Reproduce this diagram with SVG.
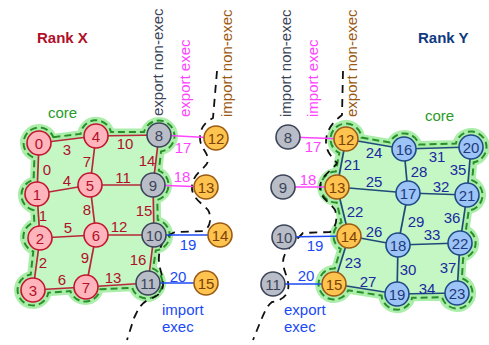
<svg xmlns="http://www.w3.org/2000/svg" width="489" height="345" viewBox="0 0 489 345">
<style>
text{font-family:"Liberation Sans",Arial,Helvetica,sans-serif;font-size:15px}
.n text{text-anchor:middle}
.nx circle{fill:#ffb5bb;stroke:#c4142e;stroke-width:1.6}
.nx text{fill:#b0102a}
.ng circle{fill:#b9bdc7;stroke:#3b4458;stroke-width:1.6}
.ng text{fill:#3b4458}
.no circle{fill:#ffc350;stroke:#9b5a12;stroke-width:1.6}
.no text{fill:#7a4206}
.nb circle{fill:#9cc4f6;stroke:#1f4a86;stroke-width:1.6}
.nb text{fill:#1f3a7a}
.core-halo{fill:#c4f7c4;stroke:#aaeeaa;stroke-width:7;stroke-linejoin:round}
.core-line{fill:none;stroke:#2a8f2a;stroke-width:2;stroke-dasharray:7 4}
.part{fill:none;stroke:#111;stroke-width:1.8;stroke-dasharray:8 6}
.ex{stroke:#b8283a;stroke-width:1.7}
.ey{stroke:#1f4a7a;stroke-width:1.7}
.em{stroke:#ff44ff;stroke-width:1.7}
.eb{stroke:#1a4af5;stroke-width:1.7}
.lx{fill:#b0102a;text-anchor:middle}
.ly{fill:#1a2aa0;text-anchor:middle}
.lm{fill:#ff44ff;text-anchor:middle}
.lb{fill:#1a4af5;text-anchor:middle}
</style>

<!-- core regions -->
<g id="core-x">
<path class="core-halo" d="M 53.4,137.2 L 80.6,133.9 A 15.5 15.5 0 0 1 111,132 L 144,132 A 15.5 15.5 0 1 1 161.1,151.4 L 158.8,170.6 A 15.5 15.5 0 0 1 157.3,199.9 L 157.7,219.9 A 15.5 15.5 0 0 1 155.8,250.4 L 153.1,268.7 A 15.5 15.5 0 1 1 132.2,287.7 L 100.2,289.3 A 15.5 15.5 0 0 1 70.4,291.1 L 48.3,292.8 A 15.5 15.5 0 1 1 30.7,274.6 L 33.3,251.5 A 15.5 15.5 0 0 1 34.3,222.2 L 33.7,210.2 A 15.5 15.5 0 0 1 33.6,179.9 L 34.4,157.8 A 15.5 15.5 0 1 1 53.4,137.2 Z"/>
<path class="core-line" d="M 53.4,137.2 L 80.6,133.9 A 15.5 15.5 0 0 1 111,132 L 144,132 A 15.5 15.5 0 1 1 161.1,151.4 L 158.8,170.6 A 15.5 15.5 0 0 1 157.3,199.9 L 157.7,219.9 A 15.5 15.5 0 0 1 155.8,250.4 L 153.1,268.7 A 15.5 15.5 0 1 1 132.2,287.7 L 100.2,289.3 A 15.5 15.5 0 0 1 70.4,291.1 L 48.3,292.8 A 15.5 15.5 0 1 1 30.7,274.6 L 33.3,251.5 A 15.5 15.5 0 0 1 34.3,222.2 L 33.7,210.2 A 15.5 15.5 0 0 1 33.6,179.9 L 34.4,157.8 A 15.5 15.5 0 1 1 53.4,137.2 Z"/>
</g>
<g id="core-y">
<path class="core-halo" d="M 361.5,137.6 L 389.9,142.5 A 15.5 15.5 0 0 1 418.9,144.6 L 455.9,143.5 A 15.5 15.5 0 1 1 473.7,162.3 L 472.2,180.4 A 15.5 15.5 0 0 1 468.8,210.4 L 466.1,228.7 A 15.5 15.5 0 0 1 463.1,258.2 L 461.9,278.3 A 15.5 15.5 0 1 1 442.1,297.3 L 412.1,297.8 A 15.5 15.5 0 0 1 381.6,295.6 L 348.2,290.3 A 15.5 15.5 0 1 1 334.7,268.5 L 340.7,249.1 A 15.5 15.5 0 0 1 341.5,222.4 L 336.7,202.5 A 15.5 15.5 0 0 1 335.8,171.5 L 339.3,153 A 15.5 15.5 0 1 1 361.5,137.6 Z"/>
<path class="core-line" d="M 361.5,137.6 L 389.9,142.5 A 15.5 15.5 0 0 1 418.9,144.6 L 455.9,143.5 A 15.5 15.5 0 1 1 473.7,162.3 L 472.2,180.4 A 15.5 15.5 0 0 1 468.8,210.4 L 466.1,228.7 A 15.5 15.5 0 0 1 463.1,258.2 L 461.9,278.3 A 15.5 15.5 0 1 1 442.1,297.3 L 412.1,297.8 A 15.5 15.5 0 0 1 381.6,295.6 L 348.2,290.3 A 15.5 15.5 0 1 1 334.7,268.5 L 340.7,249.1 A 15.5 15.5 0 0 1 341.5,222.4 L 336.7,202.5 A 15.5 15.5 0 0 1 335.8,171.5 L 339.3,153 A 15.5 15.5 0 1 1 361.5,137.6 Z"/>
</g>

<!-- partition boundaries -->
<g id="boundaries">
<path class="part" d="M 217,71 L 213,118 C 205,122 200,128 200,138 C 200,148 208,152 208,160 C 208,168 193,172 192,186 C 191,198 202,203 208,210 C 211,215 212,226 204,231 L 175,232 C 165,236 160,244 159,256 C 158,266 162,272 163,282 C 164,292 158,296 148,300 C 140,304 138,310 134,318 L 127,340"/>
<path class="part" d="M 343,71 L 342,115 C 333,122 326,130 326,142 C 326,152 332,157 337,163 C 333,170 322,174 320,186 C 319,198 330,202 335,210 C 338,218 336,228 330,232 L 303,233 C 296,240 290,246 285,254 C 280,264 286,272 288,282 C 290,292 285,300 272,302 C 266,306 262,318 253,340"/>
</g>

<!-- connectors -->
<g id="connectors">
<line class="ex" x1="39" y1="143" x2="37" y2="194"/>
<line class="ex" x1="37" y1="194" x2="40" y2="238"/>
<line class="ex" x1="40" y1="238" x2="33" y2="290"/>
<line class="ex" x1="39" y1="143" x2="96" y2="136"/>
<line class="ex" x1="37" y1="194" x2="90" y2="185"/>
<line class="ex" x1="40" y1="238" x2="96" y2="235"/>
<line class="ex" x1="33" y1="290" x2="86" y2="287"/>
<line class="ex" x1="96" y1="136" x2="90" y2="185"/>
<line class="ex" x1="90" y1="185" x2="96" y2="235"/>
<line class="ex" x1="96" y1="235" x2="86" y2="287"/>
<line class="ex" x1="96" y1="136" x2="159" y2="135"/>
<line class="ex" x1="90" y1="185" x2="153" y2="185"/>
<line class="ex" x1="96" y1="235" x2="154" y2="235"/>
<line class="ex" x1="86" y1="287" x2="148" y2="283"/>
<line class="ex" x1="159" y1="135" x2="153" y2="185"/>
<line class="ex" x1="153" y1="185" x2="154" y2="235"/>
<line class="ex" x1="154" y1="235" x2="148" y2="283"/>
<line class="em" x1="159" y1="135" x2="216" y2="138"/>
<line class="em" x1="153" y1="185" x2="206" y2="187"/>
<line class="eb" x1="154" y1="235" x2="220" y2="235"/>
<line class="eb" x1="148" y1="283" x2="206" y2="283"/>

<line class="em" x1="288" y1="137" x2="346" y2="139"/>
<line class="em" x1="283" y1="187" x2="337" y2="187"/>
<line class="eb" x1="284" y1="237" x2="349" y2="236"/>
<line class="eb" x1="273" y1="284" x2="334" y2="284"/>
<line class="ey" x1="346" y1="139" x2="337" y2="187"/>
<line class="ey" x1="337" y1="187" x2="349" y2="236"/>
<line class="ey" x1="349" y1="236" x2="334" y2="284"/>
<line class="ey" x1="346" y1="139" x2="404" y2="149"/>
<line class="ey" x1="337" y1="187" x2="408" y2="193"/>
<line class="ey" x1="349" y1="236" x2="398" y2="245"/>
<line class="ey" x1="334" y1="284" x2="397" y2="294"/>
<line class="ey" x1="404" y1="149" x2="408" y2="193"/>
<line class="ey" x1="408" y1="193" x2="398" y2="245"/>
<line class="ey" x1="398" y1="245" x2="397" y2="294"/>
<line class="ey" x1="404" y1="149" x2="471" y2="147"/>
<line class="ey" x1="408" y1="193" x2="467" y2="195"/>
<line class="ey" x1="398" y1="245" x2="460" y2="243"/>
<line class="ey" x1="397" y1="294" x2="457" y2="293"/>
<line class="ey" x1="471" y1="147" x2="467" y2="195"/>
<line class="ey" x1="467" y1="195" x2="460" y2="243"/>
<line class="ey" x1="460" y1="243" x2="457" y2="293"/>

<text class="lx" x="47" y="175">0</text>
<text class="lx" x="43" y="221">1</text>
<text class="lx" x="43" y="268">2</text>
<text class="lx" x="67" y="155">3</text>
<text class="lx" x="67" y="186">4</text>
<text class="lx" x="68" y="233">5</text>
<text class="lx" x="62" y="285">6</text>
<text class="lx" x="87" y="167">7</text>
<text class="lx" x="87" y="215">8</text>
<text class="lx" x="85" y="263">9</text>
<text class="lx" x="125" y="149">10</text>
<text class="lx" x="123" y="183">11</text>
<text class="lx" x="119" y="232">12</text>
<text class="lx" x="113" y="283">13</text>
<text class="lx" x="147" y="166">14</text>
<text class="lx" x="144" y="216">15</text>
<text class="lx" x="138" y="265">16</text>
<text class="lm" x="183" y="153">17</text>
<text class="lm" x="182" y="182">18</text>
<text class="lb" x="188" y="250">19</text>
<text class="lb" x="178" y="282">20</text>

<text class="lm" x="313" y="152">17</text>
<text class="lm" x="308" y="185">18</text>
<text class="lb" x="315" y="251">19</text>
<text class="lb" x="306" y="281">20</text>
<text class="ly" x="352" y="170">21</text>
<text class="ly" x="355" y="217">22</text>
<text class="ly" x="353" y="268">23</text>
<text class="ly" x="374" y="158">24</text>
<text class="ly" x="374" y="187">25</text>
<text class="ly" x="374" y="237">26</text>
<text class="ly" x="368" y="287">27</text>
<text class="ly" x="419" y="177">28</text>
<text class="ly" x="416" y="227">29</text>
<text class="ly" x="408" y="275">30</text>
<text class="ly" x="437" y="162">31</text>
<text class="ly" x="441" y="192">32</text>
<text class="ly" x="432" y="240">33</text>
<text class="ly" x="427" y="294">34</text>
<text class="ly" x="458" y="175">35</text>
<text class="ly" x="452" y="223">36</text>
<text class="ly" x="448" y="273">37</text>
</g>

<!-- nodes rank X -->
<g id="x0" class="n nx"><circle cx="39" cy="143" r="12"/><text x="39" y="148.5">0</text></g>
<g id="x1" class="n nx"><circle cx="37" cy="194" r="12"/><text x="37" y="199.5">1</text></g>
<g id="x2" class="n nx"><circle cx="40" cy="238" r="12"/><text x="40" y="243.5">2</text></g>
<g id="x3" class="n nx"><circle cx="33" cy="290" r="12"/><text x="33" y="295.5">3</text></g>
<g id="x4" class="n nx"><circle cx="96" cy="136" r="12"/><text x="96" y="141.5">4</text></g>
<g id="x5" class="n nx"><circle cx="90" cy="185" r="12"/><text x="90" y="190.5">5</text></g>
<g id="x6" class="n nx"><circle cx="96" cy="235" r="12"/><text x="96" y="240.5">6</text></g>
<g id="x7" class="n nx"><circle cx="86" cy="287" r="12"/><text x="86" y="292.5">7</text></g>
<g id="x8" class="n ng"><circle cx="159" cy="135" r="12"/><text x="159" y="140.5">8</text></g>
<g id="x9" class="n ng"><circle cx="153" cy="185" r="12"/><text x="153" y="190.5">9</text></g>
<g id="x10" class="n ng"><circle cx="154" cy="235" r="12"/><text x="154" y="240.5">10</text></g>
<g id="x11" class="n ng"><circle cx="148" cy="283" r="12"/><text x="148" y="288.5">11</text></g>
<g id="x12" class="n no"><circle cx="216" cy="138" r="12"/><text x="216" y="143.5">12</text></g>
<g id="x13" class="n no"><circle cx="206" cy="187" r="12"/><text x="206" y="192.5">13</text></g>
<g id="x14" class="n no"><circle cx="220" cy="235" r="12"/><text x="220" y="240.5">14</text></g>
<g id="x15" class="n no"><circle cx="206" cy="283" r="12"/><text x="206" y="288.5">15</text></g>

<!-- nodes rank Y -->
<g id="y8" class="n ng"><circle cx="288" cy="137" r="12"/><text x="288" y="142.5">8</text></g>
<g id="y9" class="n ng"><circle cx="283" cy="187" r="12"/><text x="283" y="192.5">9</text></g>
<g id="y10" class="n ng"><circle cx="284" cy="237" r="12"/><text x="284" y="242.5">10</text></g>
<g id="y11" class="n ng"><circle cx="273" cy="284" r="12"/><text x="273" y="289.5">11</text></g>
<g id="y12" class="n no"><circle cx="346" cy="139" r="12"/><text x="346" y="144.5">12</text></g>
<g id="y13" class="n no"><circle cx="337" cy="187" r="12"/><text x="337" y="192.5">13</text></g>
<g id="y14" class="n no"><circle cx="349" cy="236" r="12"/><text x="349" y="241.5">14</text></g>
<g id="y15" class="n no"><circle cx="334" cy="284" r="12"/><text x="334" y="289.5">15</text></g>
<g id="y16" class="n nb"><circle cx="404" cy="149" r="12"/><text x="404" y="154.5">16</text></g>
<g id="y17" class="n nb"><circle cx="408" cy="193" r="12"/><text x="408" y="198.5">17</text></g>
<g id="y18" class="n nb"><circle cx="398" cy="245" r="12"/><text x="398" y="250.5">18</text></g>
<g id="y19" class="n nb"><circle cx="397" cy="294" r="12"/><text x="397" y="299.5">19</text></g>
<g id="y20" class="n nb"><circle cx="471" cy="147" r="12"/><text x="471" y="152.5">20</text></g>
<g id="y21" class="n nb"><circle cx="467" cy="195" r="12"/><text x="467" y="200.5">21</text></g>
<g id="y22" class="n nb"><circle cx="460" cy="243" r="12"/><text x="460" y="248.5">22</text></g>
<g id="y23" class="n nb"><circle cx="457" cy="293" r="12"/><text x="457" y="298.5">23</text></g>

<!-- titles and region labels -->
<g id="labels">
<text x="37" y="43" fill="#b0102a" font-weight="bold">Rank X</text>
<text x="418" y="43" fill="#103a80" font-weight="bold">Rank Y</text>
<text x="48" y="118" fill="#2a9a2a">core</text>
<text x="425" y="121" fill="#2a9a2a">core</text>
<text transform="translate(163,116) rotate(-90)" fill="#3b4458">export non-exec</text>
<text transform="translate(190,117) rotate(-90)" fill="#ff44ff">export exec</text>
<text transform="translate(232,117) rotate(-90)" fill="#9b5a12">import non-exec</text>
<text transform="translate(291,117) rotate(-90)" fill="#3b4458">import non-exec</text>
<text transform="translate(318,117) rotate(-90)" fill="#ff44ff">import exec</text>
<text transform="translate(357,117) rotate(-90)" fill="#9b5a12">export non-exec</text>
<text x="162" y="315" fill="#1a4af5">import</text>
<text x="162" y="332" fill="#1a4af5">exec</text>
<text x="284" y="315" fill="#1a4af5">export</text>
<text x="284" y="332" fill="#1a4af5">exec</text>
</g>
</svg>
